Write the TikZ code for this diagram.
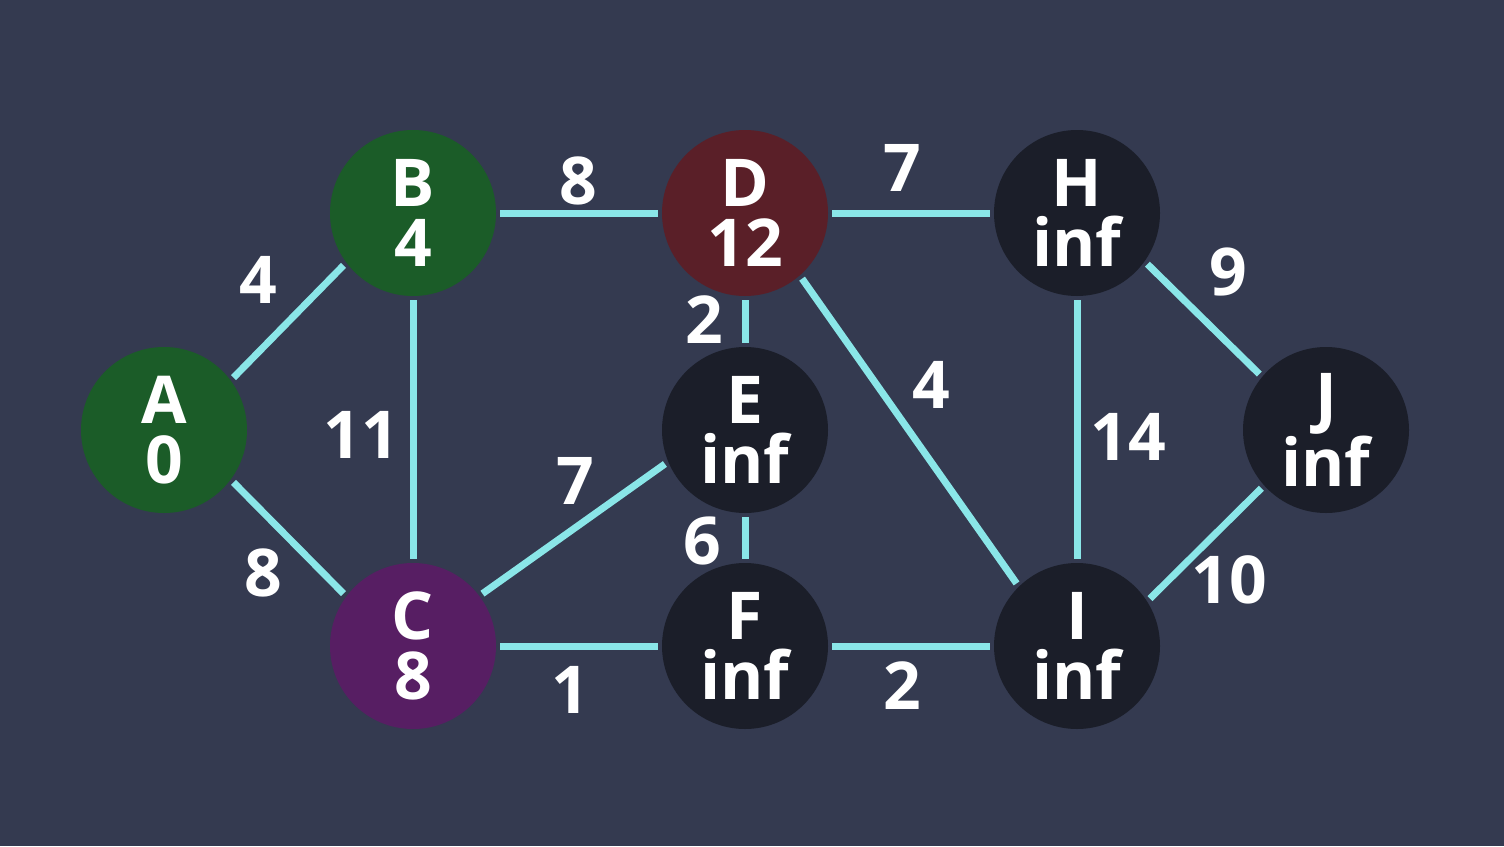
\documentclass[tikz,border=0pt]{standalone}
\usepackage{fontspec}
\setmainfont{Open Sans}
\definecolor{bg}{HTML}{343A50}
\definecolor{edgec}{HTML}{8AE6E8}
\definecolor{greenc}{HTML}{1B5C28}
\definecolor{redc}{HTML}{5A1F28}
\definecolor{purplec}{HTML}{571E63}
\definecolor{darkc}{HTML}{1B1E29}
\tikzset{
  vert/.style={circle, minimum size=166pt, inner sep=0pt, outer sep=4pt, text=white,
    font=\fontsize{66}{60}\selectfont\bfseries, align=center},
  link/.style={draw=edgec, line width=7pt},
  wlabel/.style={text=white, font=\fontsize{66}{60}\selectfont\bfseries, inner sep=0pt}
}
\begin{document}
\begin{tikzpicture}[x=1pt,y=-1pt]
\fill[bg] (0,0) rectangle (1504,846);
\useasboundingbox (0,0) rectangle (1504,846);
\node[vert, fill=greenc] (A) at (164,430) {A\\0};
\node[vert, fill=greenc] (B) at (413,213) {B\\4};
\node[vert, fill=purplec] (C) at (413,646) {C\\8};
\node[vert, fill=redc] (D) at (745,213) {D\\12};
\node[vert, fill=darkc] (E) at (745,430) {E\\inf};
\node[vert, fill=darkc] (F) at (745,646) {F\\inf};
\node[vert, fill=darkc] (H) at (1077,213) {H\\inf};
\node[vert, fill=darkc] (I) at (1077,646) {I\\inf};
\node[vert, fill=darkc] (J) at (1326,430) {J\\inf};
\draw[link] (A.37) -- (B.217);
\draw[link] (A.-37) -- (C.143);
\draw[link] (B) -- (C);
\draw[link] (B) -- (D);
\draw[link] (C.37) -- (E.203);
\draw[link] (C) -- (F);
\draw[link] (D) -- (E);
\draw[link] (D) -- (H);
\draw[link] (D.-49) -- (I.134);
\draw[link] (E) -- (F);
\draw[link] (F) -- (I);
\draw[link] (H) -- (I);
\draw[link] (H.-36) -- (J.140);
\draw[link] (I.33) -- (J.222);
\node[wlabel] (lAB) at (258,280) {4};
\node[wlabel] (lAC) at (263,573) {8};
\node[wlabel] (lBC) at (361,435) {11};
\node[wlabel] (lBD) at (578,181) {8};
\node[wlabel] (lCE) at (575,481) {7};
\node[wlabel] (lCF) at (570,690) {1};
\node[wlabel] (lDE) at (704,320) {2};
\node[wlabel] (lDH) at (902,168) {7};
\node[wlabel] (lDI) at (931,385) {4};
\node[wlabel] (lEF) at (702,541) {6};
\node[wlabel] (lFI) at (902,686) {2};
\node[wlabel] (lHI) at (1128,437) {14};
\node[wlabel] (lHJ) at (1228,272) {9};
\node[wlabel] (lIJ) at (1229,580) {10};
\end{tikzpicture}
\end{document}
